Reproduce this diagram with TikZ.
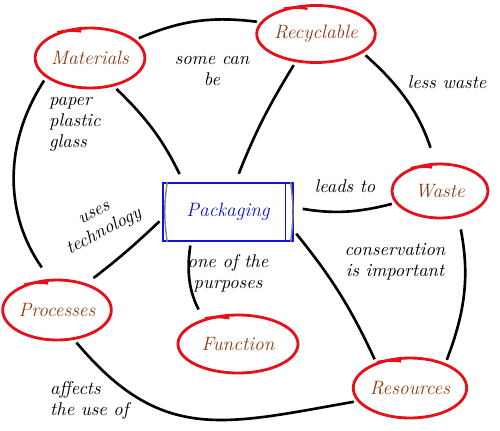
\documentclass[tikz,border=0pt]{standalone}
\usetikzlibrary{shapes.geometric}
\definecolor{ringred}{RGB}{232,16,24}
\definecolor{namebrown}{RGB}{140,58,20}
\definecolor{boxblue}{RGB}{16,16,224}
\begin{document}
\begin{tikzpicture}[x=0.02cm,y=-0.02cm,font=\itshape\fontsize{10.5}{12}\selectfont,
  concept/.style={ellipse,draw=ringred,line width=1.6pt,inner sep=0pt,text=namebrown,font=\itshape\fontsize{11}{13}\selectfont},
  link/.style={line width=1.5pt,shorten <=2pt,shorten >=2pt},
  note/.style={align=center}]
  \useasboundingbox (0,0) rectangle (500,430);

  \node[concept,minimum width=2.08cm,minimum height=1.2cm] (mat) at (90,58) {Materials};
  \node[concept,minimum width=2.24cm,minimum height=1.14cm] (rec) at (316,34) {Recyclable};
  \node[concept,minimum width=1.92cm,minimum height=1.08cm] (was) at (440,191) {Waste};
  \node[concept,minimum width=2.08cm,minimum height=1.2cm] (pro) at (57,310) {Processes};
  \node[concept,minimum width=2.4cm,minimum height=1.16cm] (fun) at (238,344) {Function};
  \node[concept,minimum width=2.2cm,minimum height=1.2cm] (res) at (410,388) {Resources};
  \node[draw=boxblue,line width=1.2pt,minimum width=2.6cm,minimum height=1.16cm,text=boxblue,
    font=\itshape\fontsize{11}{13}\selectfont] (pkg) at (228,212) {Packaging};

  \foreach \n in {mat,rec,was,pro,fun,res}
    \draw[ringred,line width=1.4pt] (\n.142) to[bend left=10] ([yshift=-2.5pt]\n.106);

  \draw[gray,line width=0.8pt] ([xshift=3pt]pkg.north west) to[bend right=8] ([xshift=3pt]pkg.south west);
  \draw[gray,line width=0.8pt] ([xshift=-2pt]pkg.north east) to[bend left=8] ([xshift=-2pt]pkg.south east);
  \draw[boxblue,line width=0.8pt] ([xshift=-5pt]pkg.north east) -- ([xshift=-5pt]pkg.south east);

  \node[note] (can) at (212,71) {some can\\be};
  \node[note] (les) at (447,82) {less waste};
  \node[note] (lea) at (345,186) {leads to};
  \node[note] (con) at (395,262) {conservation\\is important};
  \node[note] (one) at (228,273) {one of the\\purposes};
  \node[note,rotate=28] (tec) at (100,224) {uses\\technology};
  \node[align=left,anchor=west] (aff) at (44,400) {affects\\the use of};
  \node[align=left,anchor=west] (pap) at (43,124) {paper\\plastic\\glass};

  \draw[link] (mat.22) to[bend left=15] (rec.168);
  \draw[link,shorten >=5pt] (mat.-50) to[bend left=10] (pkg.146);
  \draw[link,shorten >=8pt] (mat.204) to[bend right=34] (pro.103);
  \draw[link,shorten >=5pt] (rec.234) to[bend right=5] (pkg.76);
  \draw[link,shorten >=9pt] (rec.-22) to[bend left=15] (was.99);
  \draw[link,shorten <=5pt] (pkg.4) to[bend right=12] (was.195);
  \draw[link,shorten <=7pt] (was.-55) to[bend left=16] (res.35);
  \draw[link] (pkg.-16) to[bend left=7] (res.143);
  \draw[link,shorten >=5pt] (pkg.186) to[bend left=3] (pro.42);
  \draw[link,shorten >=6pt] (pkg.219) to[bend right=18] (fun.144);
  \draw[link] (pro.-60) to[out=-50,in=190,looseness=1.2] (res.194);
\end{tikzpicture}
\end{document}
